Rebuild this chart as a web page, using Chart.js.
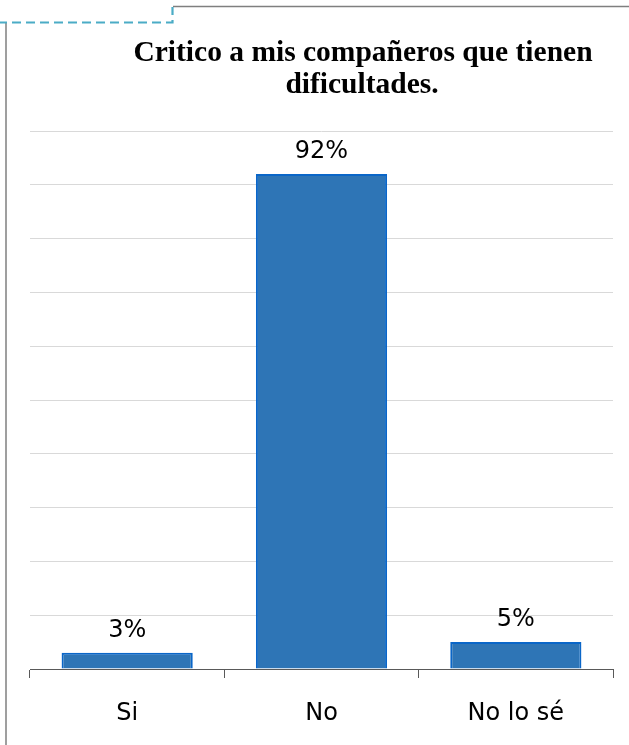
<!DOCTYPE html>
<html>
<head>
<meta charset="utf-8">
<script src="https://cdn.jsdelivr.net/npm/chart.js@4"></script>
<style>
html,body{margin:0;padding:0;background:#fff;}
#wrap{position:relative;width:629px;height:745px;}
canvas{position:absolute;left:0;top:0;}
svg{position:absolute;left:0;top:0;pointer-events:none;}
</style>
</head>
<body>
<div id="wrap">
<canvas id="c" width="629" height="745"></canvas>
<svg width="629" height="745">
  <line x1="6" y1="22" x2="6" y2="745" stroke="#7f7f7f" stroke-width="1.5"/>
  <line x1="173" y1="6.5" x2="629" y2="6.5" stroke="#7f7f7f" stroke-width="1.5"/>
  <polyline points="0,22.5 172.5,22.5 172.5,7" fill="none" stroke="#4BACC6" stroke-width="2.2" stroke-dasharray="9,5" stroke-dashoffset="2"/>
</svg>
</div>
<script>
const categories = ["Si", "No", "No lo sé"];
const values = [3, 92, 5];
const valueLabels = ["3%", "92%", "5%"];
const titleLines = ["Critico a mis compañeros que tienen", "dificultades."];

const titlePlugin = {
  id: 'customTitle',
  afterDraw(chart) {
    const ctx = chart.ctx;
    ctx.save();
    ctx.fillStyle = '#000';
    ctx.font = 'bold 29.5px "Liberation Serif", "Times New Roman", serif';
    ctx.textAlign = 'center';
    ctx.textBaseline = 'alphabetic';
    ctx.fillText(titleLines[0], 363, 61);
    ctx.fillText(titleLines[1], 362, 93);
    ctx.restore();
  }
};

const labelPlugin = {
  id: 'barLabels',
  afterDatasetsDraw(chart) {
    const ctx = chart.ctx;
    const meta = chart.getDatasetMeta(0);
    ctx.save();
    ctx.fillStyle = '#000';
    ctx.font = '24px "DejaVu Sans", sans-serif';
    ctx.textAlign = 'center';
    ctx.textBaseline = 'alphabetic';
    meta.data.forEach((bar, i) => {
      ctx.fillText(valueLabels[i], bar.x, bar.y - 16);
    });
    ctx.restore();
  }
};

new Chart(document.getElementById('c'), {
  type: 'bar',
  data: {
    labels: categories,
    datasets: [{
      data: values,
      backgroundColor: '#2E75B6',
      borderColor: '#0A66C8',
      borderWidth: 2,
      categoryPercentage: 1,
      barPercentage: 0.675
    }]
  },
  options: {
    responsive: false,
    animation: false,
    events: [],
    layout: { padding: { left: 30, right: 16, top: 131, bottom: 0 } },
    plugins: { legend: { display: false }, title: { display: false }, tooltip: { enabled: false } },
    scales: {
      y: {
        min: 0, max: 100,
        ticks: { display: false, stepSize: 10 },
        grid: { color: '#d9d9d9', lineWidth: 1, drawTicks: false },
        border: { display: false },
        afterFit(axis) { axis.width = 0; }
      },
      x: {
        grid: { offset: true, drawOnChartArea: false, drawTicks: true, tickLength: 9, color: '#595959', lineWidth: 1 },
        border: { display: true, color: '#595959', width: 1 },
        ticks: { color: '#000', font: { family: '"DejaVu Sans", sans-serif', size: 24 }, padding: 21 },
        afterFit(axis) { axis.height = 76; }
      }
    }
  },
  plugins: [titlePlugin, labelPlugin]
});
</script>
</body>
</html>
